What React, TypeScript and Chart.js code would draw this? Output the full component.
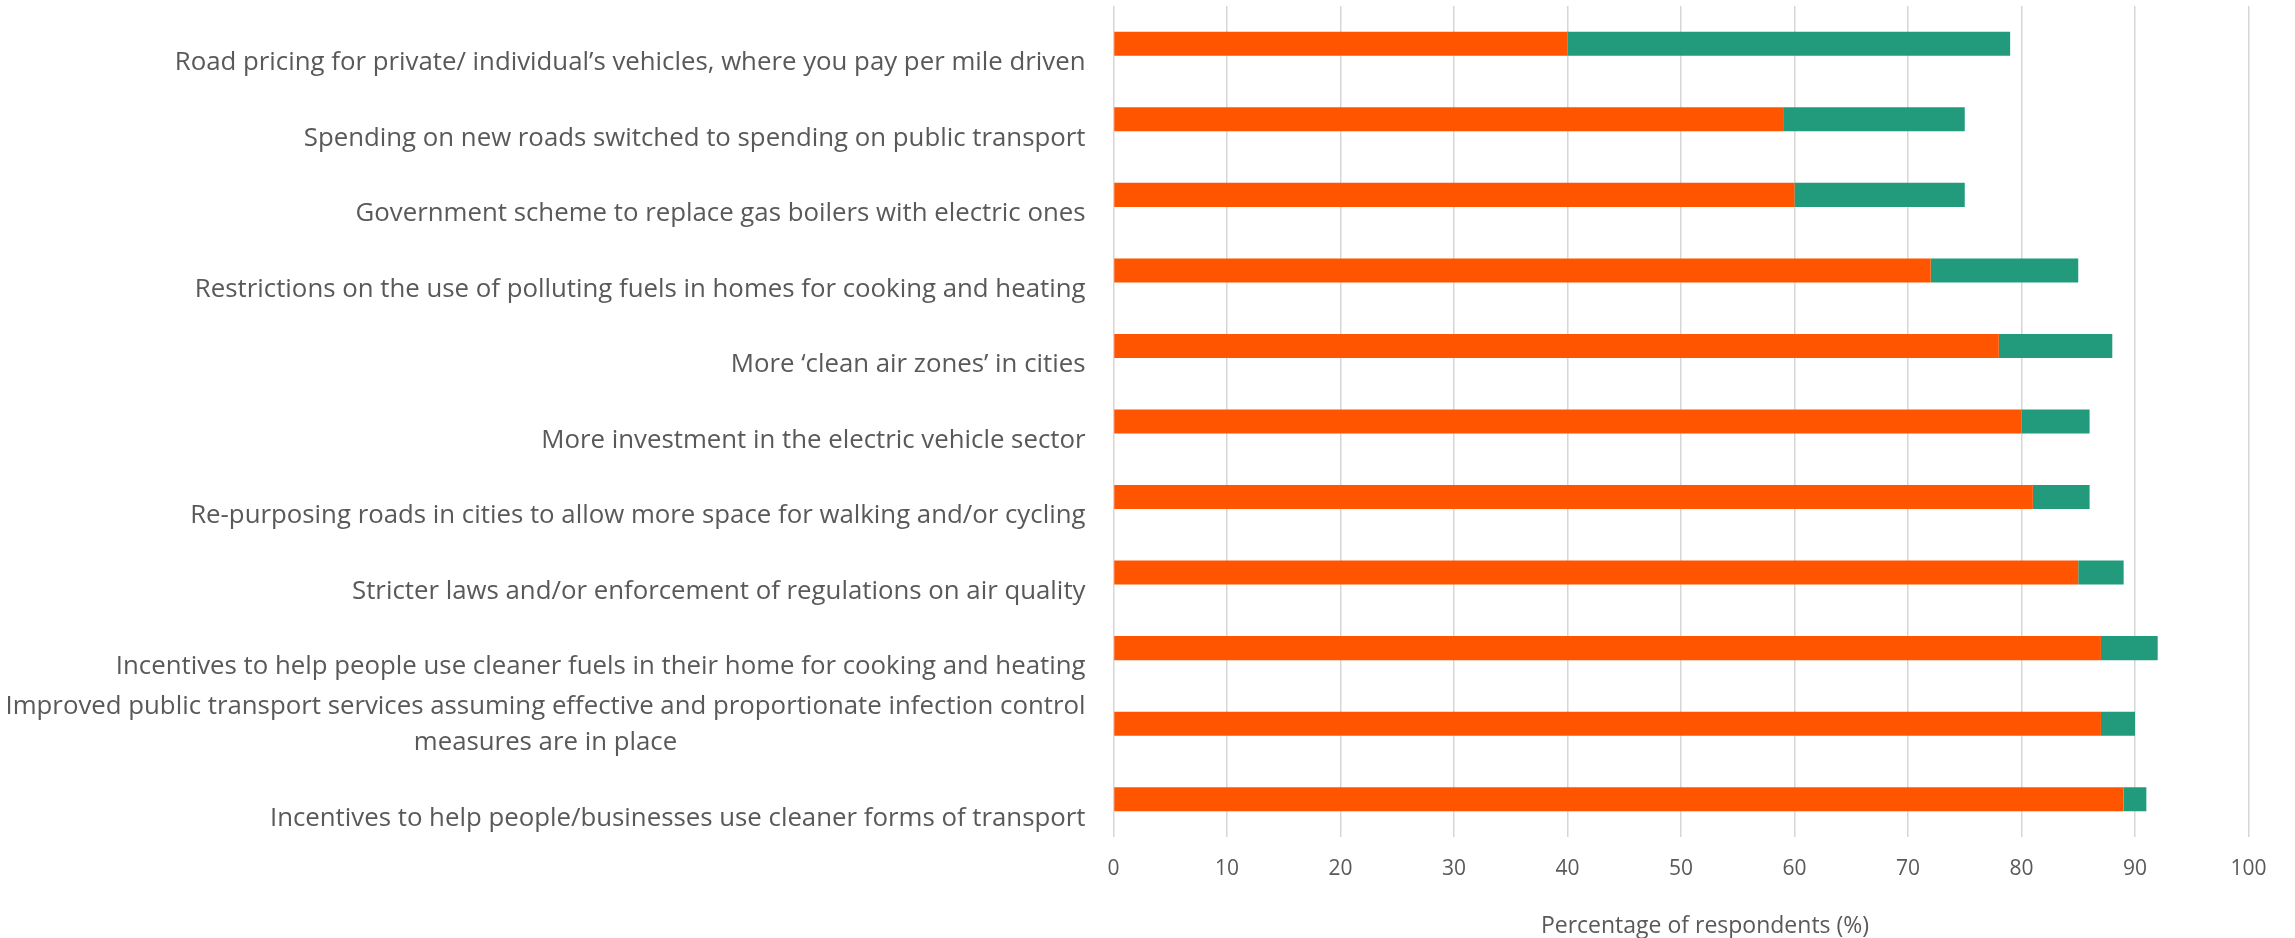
import React, { useEffect, useRef } from "react";
import { Chart, registerables } from "chart.js";

Chart.register(...registerables);

const categories: (string | string[])[] = [
  "Road pricing for private/ individual’s vehicles, where you pay per mile driven",
  "Spending on new roads switched to spending on public transport",
  "Government scheme to replace gas boilers with electric ones",
  "Restrictions on the use of polluting fuels in homes for cooking and heating",
  "More ‘clean air zones’ in cities",
  "More investment in the electric vehicle sector",
  "Re-purposing roads in cities to allow more space for walking and/or cycling",
  "Stricter laws and/or enforcement of regulations on air quality",
  "Incentives to help people use cleaner fuels in their home for cooking and heating",
  [
    "Improved public transport services assuming effective and proportionate infection control",
    "measures are in place",
  ],
  "Incentives to help people/businesses use cleaner forms of transport",
];

const stronglySupport = [40, 59, 60, 72, 78, 80, 81, 85, 87, 87, 89];
const tendToSupport = [39, 16, 15, 13, 10, 6, 5, 4, 5, 3, 2];

const xMin = 0;
const xMax = 100;
const xStep = 10;
const xTitle = "Percentage of respondents (%)";

const TEXT_COLOR = "#595959";
const FONT_FAMILY = '"Open Sans", sans-serif';

const labelPlugin = {
  id: "customLabels",
  afterDraw(chart: any) {
    const { ctx, chartArea, scales } = chart;
    const yScale = scales.y;
    ctx.save();
    ctx.fillStyle = TEXT_COLOR;
    ctx.font = `25.8px ${FONT_FAMILY}`;
    ctx.textBaseline = "middle";
    ctx.textAlign = "center";
    const rightX = chartArea.left - 28;
    categories.forEach((lab, i) => {
      const lines = Array.isArray(lab) ? lab : [lab];
      const maxW = Math.max(...lines.map((l) => ctx.measureText(l).width));
      const cx = rightX - maxW / 2;
      const base = yScale.getPixelForValue(i) + 19;
      lines.forEach((l, j) => {
        const ly = base - (lines.length - 1 - j) * 36;
        ctx.fillText(l, cx, ly);
      });
    });
    ctx.font = `23px ${FONT_FAMILY}`;
    ctx.fillText(xTitle, (chartArea.left + chartArea.right) / 2 + 24, 926);
    ctx.restore();
  },
};

export default function App() {
  const canvasRef = useRef<HTMLCanvasElement | null>(null);

  useEffect(() => {
    document.body.style.margin = "0";
    const canvas = canvasRef.current;
    if (!canvas) return;
    const chart = new Chart(canvas, {
      type: "bar",
      data: {
        labels: categories as any,
        datasets: [
          {
            label: "Strongly support",
            data: stronglySupport,
            backgroundColor: "rgb(255,85,0)",
            borderWidth: 0,
            barPercentage: 0.318,
            categoryPercentage: 1,
          },
          {
            label: "Tend to support",
            data: tendToSupport,
            backgroundColor: "rgb(34,155,125)",
            borderWidth: 0,
            barPercentage: 0.318,
            categoryPercentage: 1,
          },
        ],
      },
      options: {
        indexAxis: "y",
        animation: false,
        responsive: false,
        maintainAspectRatio: false,
        layout: { padding: { top: 6, right: 46.5, left: 0, bottom: 0 } },
        plugins: {
          legend: { display: false },
          tooltip: { enabled: false },
          title: { display: false },
        },
        scales: {
          x: {
            stacked: true,
            min: xMin,
            max: xMax,
            ticks: {
              stepSize: xStep,
              color: TEXT_COLOR,
              font: { family: FONT_FAMILY, size: 21 },
              padding: 19,
            },
            grid: { color: "#d6d6d6", lineWidth: 1.5, drawTicks: false },
            border: { display: false },
            afterFit: (scale: any) => {
              scale.height = 101;
            },
          },
          y: {
            stacked: true,
            ticks: { display: false },
            grid: { display: false, drawTicks: false },
            border: { display: false },
            afterFit: (scale: any) => {
              scale.width = 1113.5;
            },
          },
        },
      },
      plugins: [labelPlugin],
    });
    return () => chart.destroy();
  }, []);

  return (
    <div style={{ width: 2295, height: 938, background: "#fff" }}>
      <canvas ref={canvasRef} width={2295} height={938} />
    </div>
  );
}
